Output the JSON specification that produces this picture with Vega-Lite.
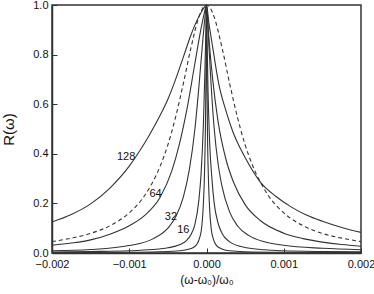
{
"$schema":"https://vega.github.io/schema/vega-lite/v6.json",
"width":309,"height":248,
"autosize":"none",
"padding":{"left":52,"top":5,"right":13,"bottom":41},
"background":"white",
"config":{"view":{"stroke":"#333","strokeWidth":1.5},"font":"Liberation Sans"},
"datasets":{
"solid":[
{"c":"128","x":-0.002,"y":0.125},{"c":"128","x":-0.00175,"y":0.155},{"c":"128","x":-0.0015,"y":0.198},{"c":"128","x":-0.00125,"y":0.262},{"c":"128","x":-0.001,"y":0.35},{"c":"128","x":-0.0009,"y":0.395},{"c":"128","x":-0.00075,"y":0.47},{"c":"128","x":-0.0006,"y":0.555},{"c":"128","x":-0.0005,"y":0.62},{"c":"128","x":-0.0004,"y":0.7},{"c":"128","x":-0.0003,"y":0.79},{"c":"128","x":-0.0002,"y":0.88},{"c":"128","x":-0.00012,"y":0.94},{"c":"128","x":-0.00005,"y":0.98},{"c":"128","x":0,"y":1},{"c":"128","x":0.00003,"y":0.93},{"c":"128","x":0.00008,"y":0.83},{"c":"128","x":0.00016,"y":0.68},{"c":"128","x":0.00025,"y":0.575},{"c":"128","x":0.00034,"y":0.49},{"c":"128","x":0.0005,"y":0.385},{"c":"128","x":0.0007,"y":0.285},{"c":"128","x":0.0009,"y":0.228},{"c":"128","x":0.0011,"y":0.185},{"c":"128","x":0.0013,"y":0.152},{"c":"128","x":0.0015,"y":0.128},{"c":"128","x":0.00175,"y":0.103},{"c":"128","x":0.002,"y":0.083},
{"c":"64","x":-0.002,"y":0.031},{"c":"64","x":-0.00175,"y":0.04},{"c":"64","x":-0.0015,"y":0.053},{"c":"64","x":-0.00125,"y":0.076},{"c":"64","x":-0.001,"y":0.11},{"c":"64","x":-0.0008,"y":0.152},{"c":"64","x":-0.0006,"y":0.225},{"c":"64","x":-0.00045,"y":0.33},{"c":"64","x":-0.00035,"y":0.44},{"c":"64","x":-0.00025,"y":0.585},{"c":"64","x":-0.00015,"y":0.765},{"c":"64","x":-0.00008,"y":0.89},{"c":"64","x":-0.00003,"y":0.965},{"c":"64","x":0,"y":1},{"c":"64","x":0.00003,"y":0.87},{"c":"64","x":0.00008,"y":0.7},{"c":"64","x":0.00015,"y":0.53},{"c":"64","x":0.00025,"y":0.38},{"c":"64","x":0.00035,"y":0.285},{"c":"64","x":0.0005,"y":0.195},{"c":"64","x":0.0007,"y":0.13},{"c":"64","x":0.001,"y":0.08},{"c":"64","x":0.00125,"y":0.058},{"c":"64","x":0.0015,"y":0.044},{"c":"64","x":0.00175,"y":0.034},{"c":"64","x":0.002,"y":0.027},
{"c":"32","x":-0.002,"y":0.009},{"c":"32","x":-0.0015,"y":0.014},{"c":"32","x":-0.001,"y":0.03},{"c":"32","x":-0.0007,"y":0.056},{"c":"32","x":-0.0005,"y":0.1},{"c":"32","x":-0.0004,"y":0.145},{"c":"32","x":-0.0003,"y":0.225},{"c":"32","x":-0.00022,"y":0.34},{"c":"32","x":-0.00015,"y":0.5},{"c":"32","x":-0.0001,"y":0.665},{"c":"32","x":-0.00005,"y":0.85},{"c":"32","x":-0.00002,"y":0.95},{"c":"32","x":0,"y":1},{"c":"32","x":0.00002,"y":0.9},{"c":"32","x":0.00005,"y":0.73},{"c":"32","x":0.0001,"y":0.5},{"c":"32","x":0.00015,"y":0.36},{"c":"32","x":0.0002,"y":0.27},{"c":"32","x":0.0003,"y":0.165},{"c":"32","x":0.0004,"y":0.11},{"c":"32","x":0.00055,"y":0.07},{"c":"32","x":0.00075,"y":0.045},{"c":"32","x":0.001,"y":0.031},{"c":"32","x":0.0015,"y":0.019},{"c":"32","x":0.002,"y":0.013},
{"c":"16","x":-0.002,"y":0.004},{"c":"16","x":-0.0015,"y":0.006},{"c":"16","x":-0.001,"y":0.009},{"c":"16","x":-0.0007,"y":0.014},{"c":"16","x":-0.0005,"y":0.021},{"c":"16","x":-0.00035,"y":0.033},{"c":"16","x":-0.00026,"y":0.05},{"c":"16","x":-0.0002,"y":0.075},{"c":"16","x":-0.00015,"y":0.115},{"c":"16","x":-0.0001,"y":0.21},{"c":"16","x":-0.00007,"y":0.32},{"c":"16","x":-0.00004,"y":0.52},{"c":"16","x":-0.00002,"y":0.74},{"c":"16","x":-0.000008,"y":0.9},{"c":"16","x":0,"y":1},{"c":"16","x":0.000008,"y":0.85},{"c":"16","x":0.00002,"y":0.65},{"c":"16","x":0.00004,"y":0.45},{"c":"16","x":0.00007,"y":0.3},{"c":"16","x":0.0001,"y":0.2},{"c":"16","x":0.00015,"y":0.12},{"c":"16","x":0.0002,"y":0.08},{"c":"16","x":0.0003,"y":0.045},{"c":"16","x":0.0005,"y":0.022},{"c":"16","x":0.00075,"y":0.013},{"c":"16","x":0.001,"y":0.009},{"c":"16","x":0.0015,"y":0.006},{"c":"16","x":0.002,"y":0.005},
{"c":"8","x":-0.002,"y":0.002},{"c":"8","x":-0.001,"y":0.003},{"c":"8","x":-0.0005,"y":0.006},{"c":"8","x":-0.0003,"y":0.011},{"c":"8","x":-0.0002,"y":0.018},{"c":"8","x":-0.00013,"y":0.033},{"c":"8","x":-0.00009,"y":0.06},{"c":"8","x":-0.00006,"y":0.11},{"c":"8","x":-0.00004,"y":0.2},{"c":"8","x":-0.000025,"y":0.33},{"c":"8","x":-0.000012,"y":0.55},{"c":"8","x":-0.000004,"y":0.82},{"c":"8","x":0,"y":1},{"c":"8","x":0.000004,"y":0.78},{"c":"8","x":0.000012,"y":0.5},{"c":"8","x":0.000025,"y":0.3},{"c":"8","x":0.00004,"y":0.18},{"c":"8","x":0.00006,"y":0.1},{"c":"8","x":0.00009,"y":0.055},{"c":"8","x":0.00013,"y":0.03},{"c":"8","x":0.0002,"y":0.016},{"c":"8","x":0.0003,"y":0.009},{"c":"8","x":0.0005,"y":0.005},{"c":"8","x":0.001,"y":0.003},{"c":"8","x":0.002,"y":0.002}
],
"dashed":[
{"x":-0.002,"y":0.046},{"x":-0.00175,"y":0.06},{"x":-0.0015,"y":0.079},{"x":-0.00125,"y":0.11},{"x":-0.001,"y":0.162},{"x":-0.0008,"y":0.232},{"x":-0.0006,"y":0.35},{"x":-0.0005,"y":0.436},{"x":-0.0004,"y":0.548},{"x":-0.0003,"y":0.683},{"x":-0.0002,"y":0.829},{"x":-0.0001,"y":0.951},{"x":-0.00005,"y":0.987},{"x":0,"y":1},{"x":0.00005,"y":0.987},{"x":0.0001,"y":0.951},{"x":0.0002,"y":0.829},{"x":0.0003,"y":0.683},{"x":0.0004,"y":0.548},{"x":0.0005,"y":0.436},{"x":0.0006,"y":0.35},{"x":0.0008,"y":0.232},{"x":0.001,"y":0.162},{"x":0.00125,"y":0.11},{"x":0.0015,"y":0.079},{"x":0.00175,"y":0.06},{"x":0.002,"y":0.046}
],
"labels":[
{"t":"128","x":-0.00104,"y":0.388},{"t":"64","x":-0.00066,"y":0.239},{"t":"32","x":-0.00046,"y":0.144},{"t":"16","x":-0.0003,"y":0.094}
]
},
"layer":[
{"data":{"name":"solid"},"mark":{"type":"line","interpolate":"monotone","stroke":"#333","strokeWidth":1.1,"clip":true},
"encoding":{
"x":{"field":"x","type":"quantitative","scale":{"domain":[-0.002,0.002],"nice":false},
"axis":{"values":[-0.002,-0.0015,-0.001,-0.0005,0,0.0005,0.001,0.0015,0.002],"labelExpr":"abs(datum.value*1000 - round(datum.value*1000))<0.01 ? format(datum.value,'.3f') : ''","tickSize":{"condition":{"test":"abs(datum.value*1000 - round(datum.value*1000))<0.01","value":-5},"value":-3},"labelPadding":10,"tickColor":"#333","domainColor":"#333","domainWidth":1.5,"grid":false,"labelFontSize":11,"labelColor":"#111","title":"(ω-ω₀)/ω₀","titleFontSize":12,"titleFontWeight":"normal","titleColor":"#111","titlePadding":5,"labelFlush":false}},
"y":{"field":"y","type":"quantitative","scale":{"domain":[0,1],"nice":false},
"axis":{"values":[0,0.1,0.2,0.3,0.4,0.5,0.6,0.7,0.8,0.9,1.0],"labelExpr":"abs(datum.value*5 - round(datum.value*5))<0.01 ? format(datum.value,'.1f') : ''","tickSize":{"condition":{"test":"abs(datum.value*5 - round(datum.value*5))<0.01","value":-5},"value":-3},"labelPadding":9,"tickColor":"#333","domainColor":"#333","domainWidth":1.5,"grid":false,"labelFontSize":11,"labelColor":"#111","title":"R(ω)","titleFontSize":15,"titleFontWeight":"normal","titleColor":"#111","titlePadding":16}},
"detail":{"field":"c"}}},
{"data":{"name":"dashed"},"mark":{"type":"line","interpolate":"monotone","stroke":"#333","strokeWidth":1.1,"strokeDash":[4,3]},
"encoding":{"x":{"field":"x","type":"quantitative"},"y":{"field":"y","type":"quantitative"}}},
{"data":{"name":"labels"},"mark":{"type":"text","fontSize":11,"color":"#111"},
"encoding":{"x":{"field":"x","type":"quantitative"},"y":{"field":"y","type":"quantitative"},"text":{"field":"t"}}}
]
}
